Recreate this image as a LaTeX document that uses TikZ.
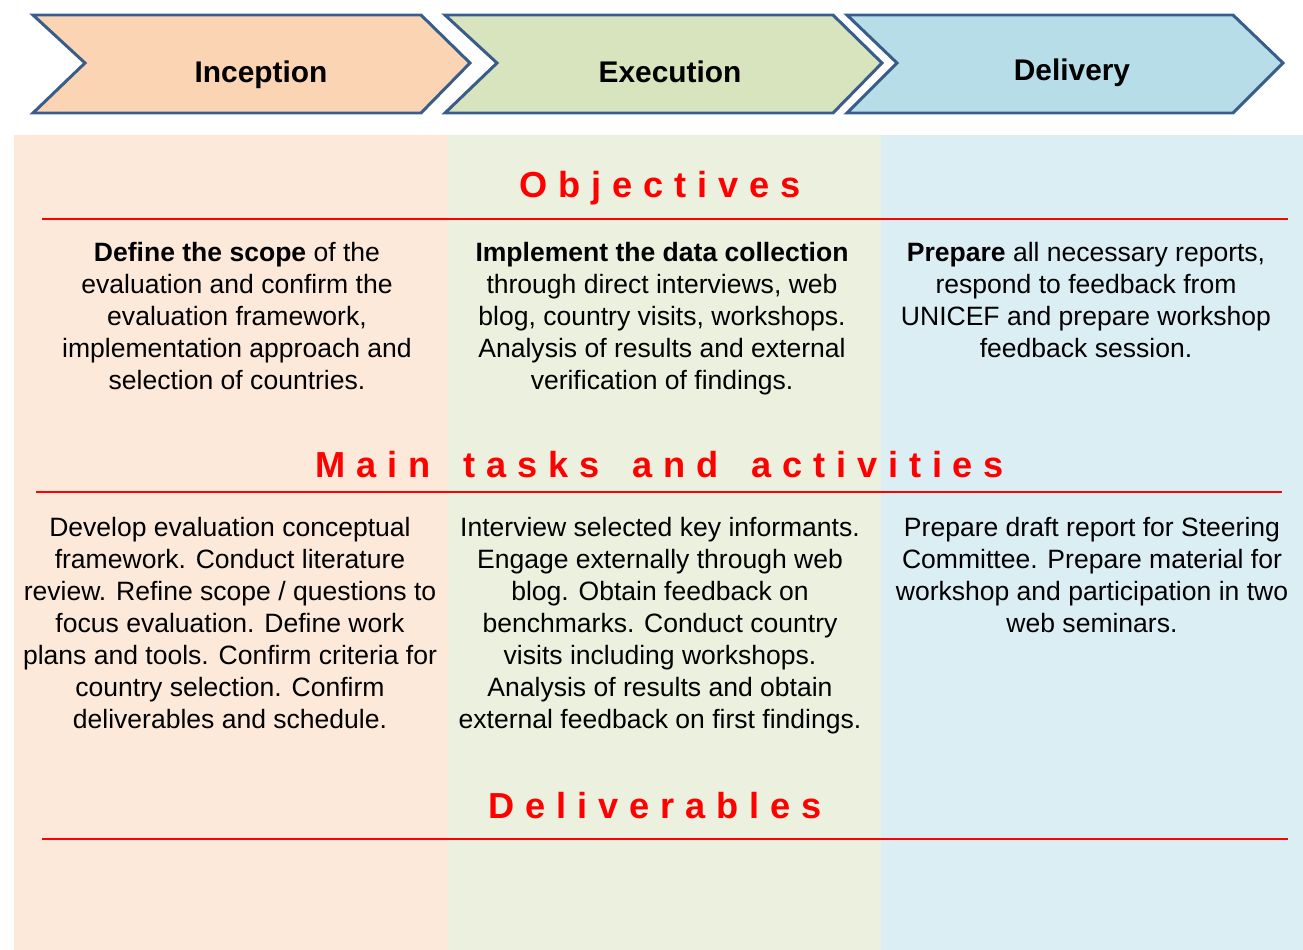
\documentclass[tikz,border=0pt]{standalone}
\usepackage{fontspec}
\setmainfont{Liberation Sans}
\newfontfamily\headfont[LetterSpace=30]{Liberation Sans}
\newcommand{\wordgap}{\ \hspace{6.8pt}}
\begin{document}
\begin{tikzpicture}[x=0.02cm,y=-0.02cm,
  chevron/.style={draw=chevronline,line width=1.7pt,line join=miter},
  phaselabel/.style={inner sep=0,anchor=base,font=\fontsize{17}{20}\selectfont\bfseries},
  heading/.style={inner sep=0,anchor=base,text=red,font=\headfont\fontsize{20.6}{24}\selectfont\bfseries},
  rule/.style={draw=red,line width=1.1pt},
  % multi-line blocks: the base anchor sits on the last line's baseline
  body/.style={inner sep=0,anchor=base,align=center,font=\fontsize{15.1}{18.14}\selectfont}]
\definecolor{chevronline}{HTML}{385D8A}
\definecolor{incfill}{HTML}{FBD4B4}
\definecolor{exefill}{HTML}{D7E4BD}
\definecolor{delfill}{HTML}{B7DDE8}
\definecolor{incpanel}{HTML}{FDE9D9}
\definecolor{exepanel}{HTML}{EBF1DE}
\definecolor{delpanel}{HTML}{DBEEF4}
\useasboundingbox (0,0) rectangle (1303,950);

% phase chevrons
\draw[chevron,fill=incfill] (33,15) -- (421,15) -- (470,63) -- (421,113) -- (33,113) -- (85,63) -- cycle;
\draw[chevron,fill=exefill] (445,15) -- (833,15) -- (882,63) -- (833,113) -- (445,113) -- (497,63) -- cycle;
\draw[chevron,fill=delfill] (847,15) -- (1233,15) -- (1283,63) -- (1233,113) -- (847,113) -- (897,63) -- cycle;
\node[phaselabel] (inception) at (261,82) {Inception};
\node[phaselabel] (execution) at (670,82) {Execution};
\node[phaselabel] (delivery) at (1072,80) {Delivery};

% column panels
\fill[incpanel] (14,135) rectangle (448,950);
\fill[exepanel] (448,135) rectangle (881,950);
\fill[delpanel] (881,135) rectangle (1303,950);

% section headings and rules
\node[heading] (objectives) at (660,197) {Objectives};
\draw[rule] (42,219) -- (1288,219);
\node[heading] (tasks) at (660,477) {Main\wordgap tasks\wordgap and\wordgap activities};
\draw[rule] (36,492) -- (1282,492);
\node[heading] (deliverables) at (655,818) {Deliverables};
\draw[rule] (42,839) -- (1288,839);

% objectives
\node[body] (obj1) at (237,389) {\textbf{Define the scope} of the\\evaluation and confirm the\\evaluation framework,\\implementation approach and\\selection of countries.};
\node[body] (obj2) at (662,389) {\textbf{Implement the data collection}\\through direct interviews, web\\blog, country visits, workshops.\\Analysis of results and external\\verification of findings.};
\node[body] (obj3) at (1086,357) {\textbf{Prepare} all necessary reports,\\respond to feedback from\\UNICEF and prepare workshop\\feedback session.};

% main tasks and activities
\node[body] (task1) at (230,728) {Develop evaluation conceptual\\framework. Conduct literature\\review. Refine scope / questions to\\focus evaluation. Define work\\plans and tools. Confirm criteria for\\country selection. Confirm\\deliverables and schedule.};
\node[body] (task2) at (660,728) {Interview selected key informants.\\Engage externally through web\\blog. Obtain feedback on\\benchmarks. Conduct country\\visits including workshops.\\Analysis of results and obtain\\external feedback on first findings.};
\node[body] (task3) at (1092,632) {Prepare draft report for Steering\\Committee. Prepare material for\\workshop and participation in two\\web seminars.};
\end{tikzpicture}
\end{document}
